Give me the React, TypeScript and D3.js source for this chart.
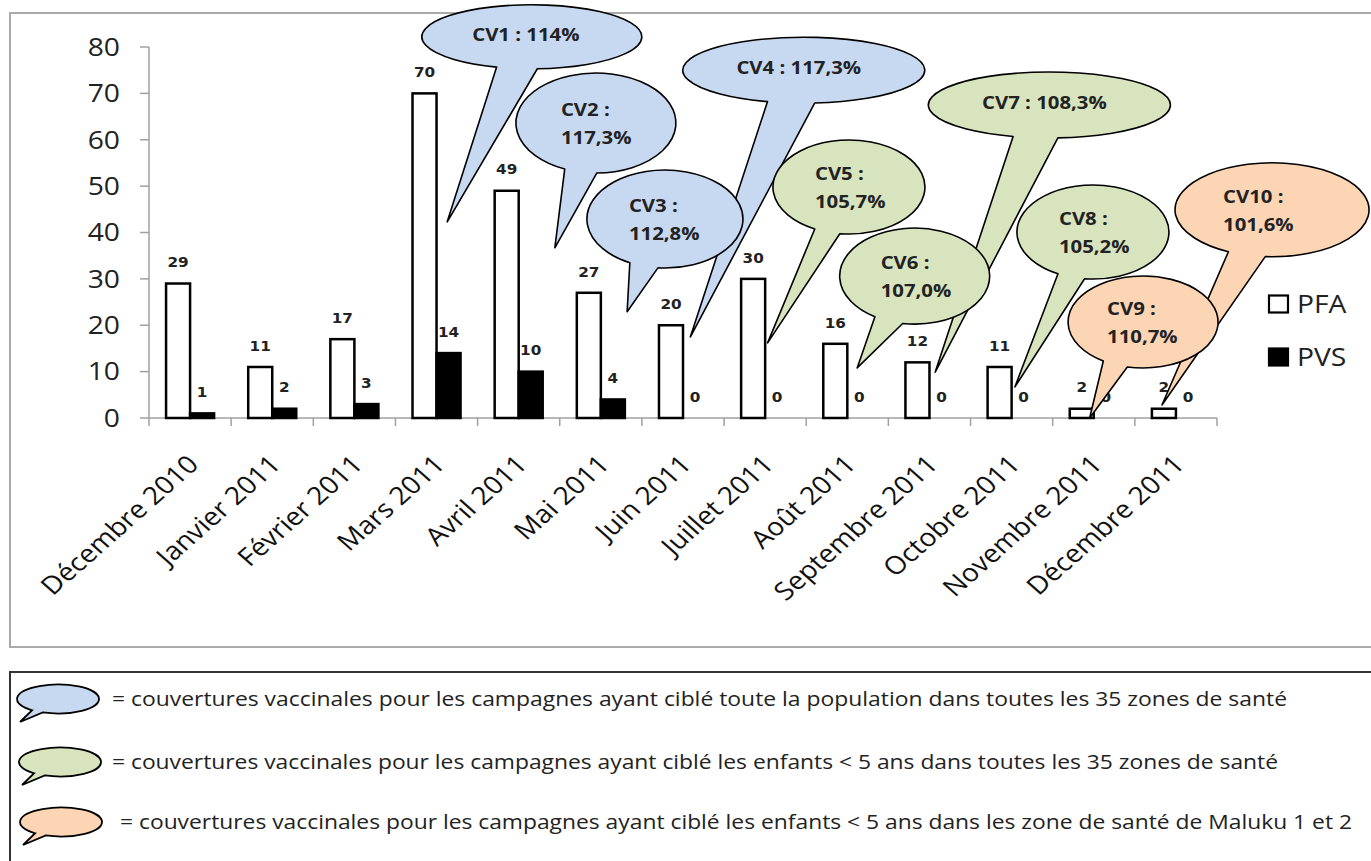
import React from 'react';
import * as d3 from 'd3';

// ---- data ----
const categories = [
  'Décembre 2010', 'Janvier 2011', 'Février 2011', 'Mars 2011', 'Avril 2011', 'Mai 2011',
  'Juin 2011', 'Juillet 2011', 'Août 2011', 'Septembre 2011', 'Octobre 2011', 'Novembre 2011', 'Décembre 2011',
];
const seriesNames = ['PFA', 'PVS'];
const pfaValues = [29, 11, 17, 70, 49, 27, 20, 30, 16, 12, 11, 2, 2];
const pvsValues = [1, 2, 3, 14, 10, 4, 0, 0, 0, 0, 0, 0, 0];
const yTicks = [0, 10, 20, 30, 40, 50, 60, 70, 80];

const cvLines = [
  ['CV1 : 114%'], ['CV2 :', '117,3%'], ['CV3 :', '112,8%'], ['CV4 : 117,3%'],
  ['CV5 :', '105,7%'], ['CV6 :', '107,0%'], ['CV7 : 108,3%'], ['CV8 :', '105,2%'],
  ['CV9 :', '110,7%'], ['CV10 :', '101,6%'],
];
const cvGroups = ['pop', 'pop', 'pop', 'pop', 'u5', 'u5', 'u5', 'u5', 'maluku', 'maluku'];
const groupNames = ['pop', 'u5', 'maluku'];
const groupLabels = [
  '= couvertures vaccinales pour les campagnes ayant ciblé toute la population dans toutes les 35 zones de santé',
  '= couvertures vaccinales pour les campagnes ayant ciblé les enfants < 5 ans dans toutes les 35 zones de santé',
  '= couvertures vaccinales pour les campagnes ayant ciblé les enfants < 5 ans dans les zone de santé de Maluku 1 et 2',
];

// ---- callout layout (category units on x, axis values on y) ----
const cvCenterU = [4.66, 5.44, 6.28, 7.97, 8.52, 9.32, 10.96, 11.49, 12.10, 13.67];
const cvCenterV = [82.2, 63.6, 42.9, 75.0, 49.8, 30.6, 67.5, 40.1, 20.7, 44.9];
const cvTipU = [3.63, 4.94, 5.82, 6.59, 7.53, 8.62, 9.57, 10.54, 11.45, 12.33];
const cvTipV = [42.3, 36.7, 22.9, 17.5, 16.2, 10.8, 9.9, 6.7, 0, 2.8];
const cvRx = [110, 80, 78, 121, 76, 75, 121, 76, 75, 97];
const cvRy = [32, 50, 49, 33, 47, 48, 33, 47, 46, 47];
const cvBaseA = [-0.32, -0.39, -0.45, -0.30, -0.45, -0.53, -0.30, -0.46, -0.53, -0.45];
const cvBaseB = [0.05, 0.01, -0.09, 0.09, -0.12, -0.16, 0.07, -0.11, -0.21, -0.07];
const cvTextDx = [-6, -35, -36, -5, -34, -34, -5, -34, -36, -49];
const cvOrder = [0, 3, 6, 9, 1, 2, 4, 5, 7, 8];

const W = 1371;
const H = 861;
const SX = 1.13; // horizontal stretch of the source picture
const FONT = '"Open Sans", sans-serif';
const fills: Record<string, string> = { pop: '#c6d9f1', u5: '#d7e4bd', maluku: '#fcd5b5' };

function bubblePath(cx: number, cy: number, rx: number, ry: number, fa: number, fb: number, tx: number, ty: number) {
  const ax = cx + rx * fa, ay = cy + ry * Math.sqrt(1 - fa * fa);
  const bx = cx + rx * fb, by = cy + ry * Math.sqrt(1 - fb * fb);
  return `M${bx},${by} A${rx},${ry} 0 1 0 ${ax},${ay} L${tx},${ty} Z`;
}

export default function App() {
  const plot = { left: 149, right: 1217, top: 47, bottom: 418 };
  const x = d3.scaleBand<string>().domain(categories).range([plot.left, plot.right]).padding(0);
  const xSub = d3.scaleBand<string>().domain(seriesNames).range([0, x.step()]).paddingInner(0).paddingOuter(0.71);
  const y = d3.scaleLinear().domain([0, 80]).range([plot.bottom, plot.top]);
  const xu = d3.scaleLinear().domain([0, categories.length]).range([plot.left, plot.right]);
  const series = [pfaValues, pvsValues];
  const boundaries = d3.range(categories.length + 1).map(i => xu(i));

  return (
    <svg width={W} height={H} style={{ position: 'absolute', left: 0, top: 0, background: '#fff' }} fontFamily={FONT}>
      <rect x={0} y={0} width={W} height={H} fill="#fff" />
      {/* chart frame */}
      <rect x={10} y={13} width={1370} height={634} fill="none" stroke="#aaa" strokeWidth={2} />

      {/* y axis */}
      <line x1={plot.left} x2={plot.left} y1={y(80)} y2={y(0)} stroke="#a0a0a0" strokeWidth={1.5} />
      {yTicks.map(t => (
        <g key={t}>
          <line x1={plot.left - 9} x2={plot.left} y1={y(t)} y2={y(t)} stroke="#a0a0a0" strokeWidth={1.5} />
          <text transform={`translate(120,${y(t)}) scale(${SX},1)`} textAnchor="end" dy="0.35em" fontSize={25} fill="#222">{t}</text>
        </g>
      ))}

      {/* x axis */}
      <line x1={plot.left} x2={plot.right} y1={y(0)} y2={y(0)} stroke="#a0a0a0" strokeWidth={1.5} />
      {boundaries.map((b, i) => (
        <line key={i} x1={b} x2={b} y1={y(0)} y2={y(0) + 8} stroke="#a0a0a0" strokeWidth={1.5} />
      ))}
      {categories.map(c => (
        <text key={c} transform={`translate(${(x(c) as number) + x.step() / 2 + 10},466) scale(${SX},1) rotate(-45)`}
          textAnchor="end" fontSize={25} fill="#111">{c}</text>
      ))}

      {/* bars */}
      {categories.map((c, i) => (
        <g key={c}>
          {seriesNames.map((s, k) => {
            const v = series[k][i];
            const bx = (x(c) as number) + (xSub(s) as number);
            return (
              <rect key={s} x={bx} y={y(v)} width={xSub.bandwidth()} height={y(0) - y(v)}
                fill={k === 0 ? '#fff' : '#000'} stroke="#000" strokeWidth={2.5} />
            );
          })}
          {seriesNames.map((s, k) => {
            const v = series[k][i];
            const bx = (x(c) as number) + (xSub(s) as number) + xSub.bandwidth() / 2;
            return (
              <text key={s} transform={`translate(${bx},${y(v) - 21}) scale(${SX},1)`} textAnchor="middle" dy="0.35em"
                fontFamily='"DejaVu Sans", sans-serif' fontWeight="bold" fontSize={13.5} fill="#222">{v}</text>
            );
          })}
        </g>
      ))}

      {/* callouts */}
      {cvOrder.map(i => {
        const cx = xu(cvCenterU[i]);
        const cy = y(cvCenterV[i]);
        const lines = cvLines[i];
        return (
          <g key={i}>
            <path d={bubblePath(cx, cy, cvRx[i], cvRy[i], cvBaseA[i], cvBaseB[i], xu(cvTipU[i]), y(cvTipV[i]))}
              fill={fills[cvGroups[i]]} stroke="#000" strokeWidth={1.6} strokeLinejoin="round" />
            {lines.length === 1 ? (
              <text transform={`translate(${cx + cvTextDx[i]},${cy - 2}) scale(${SX},1)`} textAnchor="middle" dy="0.35em"
                fontSize={18} fontWeight="bold" fill="#222">{lines[0]}</text>
            ) : (
              <text transform={`translate(${cx + cvTextDx[i]},${cy}) scale(${SX},1)`} textAnchor="start"
                fontSize={18} fontWeight="bold" fill="#222">
                <tspan x={0} y={-13} dy="0.35em">{lines[0]}</tspan>
                <tspan x={0} y={15} dy="0.35em">{lines[1]}</tspan>
              </text>
            )}
          </g>
        );
      })}

      {/* series legend */}
      {seriesNames.map((s, k) => (
        <g key={s} transform={`translate(1269,${304 + k * 53})`}>
          <rect x={0} y={-8.5} width={19} height={17} fill={k === 0 ? '#fff' : '#000'} stroke="#000" strokeWidth={2.2} />
          <text transform={`translate(28,0) scale(${SX},1)`} dy="0.35em" fontSize={25} fill="#222">{s}</text>
        </g>
      ))}

      {/* callout legend */}
      <rect x={10} y={672} width={1380} height={220} fill="none" stroke="#333" strokeWidth={2} />
      {groupNames.map((g, k) => {
        const cy = [699, 762, 822][k];
        const cx = [58, 60, 61][k];
        const tx = [112, 112, 120][k];
        const tl = [1175, 1166, 1232][k];
        return (
          <g key={g}>
            <path d={bubblePath(cx, cy, 41, 14.5, -0.63, -0.37, cx - 38, cy + 23)} fill={fills[g]} stroke="#000" strokeWidth={1.8} />
            <text x={tx} y={cy} dy="0.35em" fontSize={20} fill="#222" textLength={tl} lengthAdjust="spacingAndGlyphs">{groupLabels[k]}</text>
          </g>
        );
      })}
    </svg>
  );
}
